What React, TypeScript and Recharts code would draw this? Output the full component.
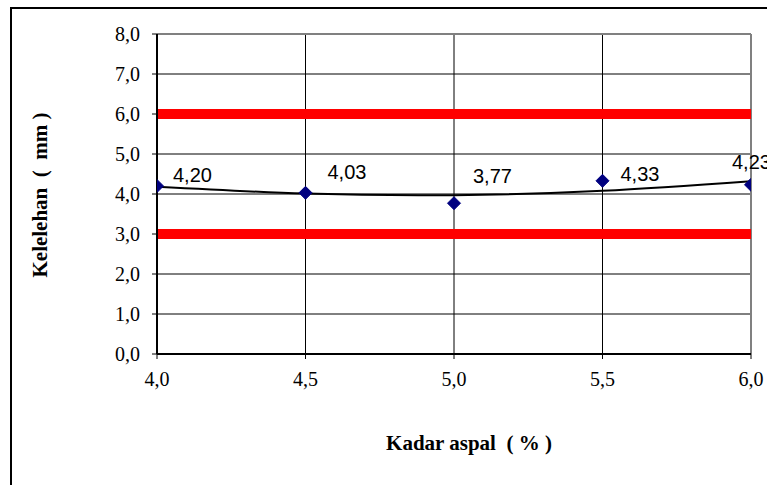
import {
    ComposedChart,
    Line,
    XAxis,
    YAxis,
    CartesianGrid,
    ReferenceLine,
} from 'recharts';

// kadar aspal (%)
const kadarAspal = [4.0, 4.5, 5.0, 5.5, 6.0];
// kelelehan (mm), measured points
const kelelehan = [4.2, 4.03, 3.77, 4.33, 4.23];
// trend curve at the same x values
const trendValues = [4.18, 4.01, 3.97, 4.08, 4.32];
// spec limits (red lines)
const specLimits = [3, 6];

const xTicks = [4.0, 4.5, 5.0, 5.5, 6.0];
const yTicks = [0, 1, 2, 3, 4, 5, 6, 7, 8];

// manual data label offsets (Excel-style moved labels)
const labelOffsets = [
    { dx: 16, dy: -11 },
    { dx: 22, dy: -21 },
    { dx: 19, dy: -27 },
    { dx: 18, dy: -7 },
    { dx: -19, dy: -23 },
];

const data = kadarAspal.map((x, i) => ({
    x,
    kelelehan: kelelehan[i],
    trend: trendValues[i],
}));

const SERIF = '"Liberation Serif", "Times New Roman", serif';
const SANS = '"Liberation Sans", Arial, sans-serif';

const fmt = (v: number) => v.toFixed(1).replace('.', ',');
const fmt2 = (v: number) => v.toFixed(2).replace('.', ',');

const Diamond = (props: any) => {
    const { cx, cy } = props;
    if (cx == null || cy == null) return null;
    const r = 6.5;
    return (
        <polygon
            points={`${cx},${cy - r} ${cx + r},${cy} ${cx},${cy + r} ${cx - r},${cy}`}
            fill="#000080"
            stroke="#000080"
        />
    );
};

const renderLabel = (props: any) => {
    const { x, y, value, index } = props;
    const off = labelOffsets[index] || { dx: 15, dy: -10 };
    return (
        <text
            x={x + off.dx}
            y={y + off.dy}
            textAnchor="start"
            dominantBaseline="central"
            style={{ fontFamily: SANS, fontSize: 20, fill: '#000' }}
        >
            {fmt2(value)}
        </text>
    );
};

const XTick = (props: any) => {
    const { x, y, payload } = props;
    return (
        <text
            x={x}
            y={y}
            dy="0.75em"
            textAnchor="middle"
            style={{ fontFamily: SERIF, fontSize: 20, fill: '#000' }}
        >
            {fmt(payload.value)}
        </text>
    );
};

const YTick = (props: any) => {
    const { x, y, payload } = props;
    return (
        <text
            x={x}
            y={y}
            textAnchor="end"
            dominantBaseline="central"
            style={{ fontFamily: SERIF, fontSize: 20, fill: '#000' }}
        >
            {fmt(payload.value)}
        </text>
    );
};

export default function App() {
    return (
        <div
            style={{
                position: 'absolute',
                left: 0,
                top: 0,
                width: 767,
                height: 485,
                overflow: 'hidden',
                background: '#fff',
            }}
        >
            <div
                style={{
                    position: 'absolute',
                    left: 10,
                    top: 7,
                    width: 800,
                    height: 520,
                    border: '2px solid #000',
                }}
            />
            <div style={{ position: 'absolute', left: 0, top: 0 }}>
                <ComposedChart
                    width={767}
                    height={485}
                    data={data}
                    margin={{ top: 34, right: 16, left: 97, bottom: 101 }}
                >
                    <CartesianGrid stroke="#000" strokeWidth={1} />
                    <XAxis
                        dataKey="x"
                        type="number"
                        domain={[4, 6]}
                        ticks={xTicks}
                        tick={<XTick />}
                        tickSize={5}
                        tickMargin={12}
                        height={30}
                        axisLine={{ stroke: '#000', strokeWidth: 2 }}
                        tickLine={{ stroke: '#000' }}
                        allowDataOverflow
                    />
                    <YAxis
                        type="number"
                        domain={[0, 8]}
                        ticks={yTicks}
                        tick={<YTick />}
                        tickSize={5}
                        tickMargin={12}
                        width={60}
                        axisLine={{ stroke: '#000', strokeWidth: 2 }}
                        tickLine={{ stroke: '#000' }}
                    />
                    <ReferenceLine y={8} stroke="#808080" strokeWidth={2} />
                    <ReferenceLine x={6} stroke="#808080" strokeWidth={2} />
                    {specLimits.map((v) => (
                        <ReferenceLine key={v} y={v} stroke="#ff0000" strokeWidth={10} />
                    ))}
                    <Line
                        type="natural"
                        dataKey="trend"
                        stroke="#000"
                        strokeWidth={2}
                        dot={false}
                        activeDot={false}
                        isAnimationActive={false}
                    />
                    <Line
                        type="linear"
                        dataKey="kelelehan"
                        stroke="none"
                        dot={<Diamond />}
                        activeDot={false}
                        label={renderLabel}
                        isAnimationActive={false}
                    />
                </ComposedChart>
            </div>
            <div
                style={{
                    position: 'absolute',
                    left: 469,
                    top: 443,
                    transform: 'translate(-50%, -50%)',
                    whiteSpace: 'pre',
                    fontFamily: SERIF,
                    fontWeight: 'bold',
                    fontSize: 21,
                    color: '#000',
                }}
            >
                {'Kadar aspal  ( % )'}
            </div>
            <div
                style={{
                    position: 'absolute',
                    left: 40,
                    top: 195,
                    transform: 'translate(-50%, -50%) rotate(-90deg)',
                    whiteSpace: 'pre',
                    fontFamily: SERIF,
                    fontWeight: 'bold',
                    fontSize: 21,
                    color: '#000',
                }}
            >
                {'Kelelehan  (  mm )'}
            </div>
        </div>
    );
}
